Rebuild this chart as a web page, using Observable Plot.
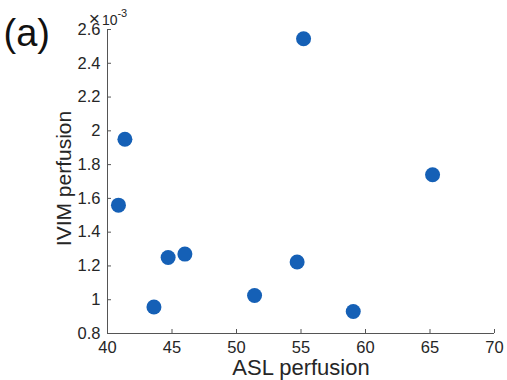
<!DOCTYPE html>
<html>
<head>
<meta charset="utf-8">
<script src="https://cdn.jsdelivr.net/npm/d3@7"></script>
<script src="https://cdn.jsdelivr.net/npm/@observablehq/plot@0.6"></script>
<style>
  html, body { margin: 0; padding: 0; background: #fff; }
  #chart { position: relative; width: 507px; height: 380px; }
  svg { font-family: "Liberation Sans", Arial, Helvetica, sans-serif; }
</style>
</head>
<body>
<div id="chart"></div>
<script>
const aslPerfusion  = [41.35, 40.85, 44.7, 46.0, 43.6, 51.4, 55.2, 65.2, 54.7, 59.05];
const ivimPerfusion = [0.00195, 0.00156, 0.00125, 0.00127, 0.000957, 0.001025, 0.002545, 0.00174, 0.001223, 0.00093];
const xTicks = [40, 45, 50, 55, 60, 65, 70];
const yTicks = [0.0008, 0.0010, 0.0012, 0.0014, 0.0016, 0.0018, 0.0020, 0.0022, 0.0024, 0.0026];
const yTickLabels = ["0.8", "1", "1.2", "1.4", "1.6", "1.8", "2", "2.2", "2.4", "2.6"];
const xLabel = "ASL perfusion";
const yLabel = "IVIM perfusion";
const panelLabel = "(a)";

const data = aslPerfusion.map((x, i) => ({x, y: ivimPerfusion[i]}));
const xDomain = [40, 70], yDomain = [0.0008, 0.0026];
const W = 507, H = 380, mL = 107, mR = 13, mT = 29, mB = 47;
const pxPerX = (W - mL - mR) / (xDomain[1] - xDomain[0]);
const pxPerY = (H - mT - mB) / (yDomain[1] - yDomain[0]);
const tickLen = 4;
const axisColor = "#555";
const textColor = "#262626";
const font = "'Liberation Sans', Arial, Helvetica, sans-serif";

const plot = Plot.plot({
  width: W, height: H,
  marginLeft: mL, marginRight: mR, marginTop: mT, marginBottom: mB,
  x: {domain: xDomain, axis: null},
  y: {domain: yDomain, axis: null},
  style: {fontFamily: font, color: textColor, background: "#fff"},
  marks: [
    Plot.ruleY([yDomain[0]], {stroke: axisColor, strokeWidth: 1}),
    Plot.ruleX([xDomain[0]], {stroke: axisColor, strokeWidth: 1}),
    Plot.ruleX(xTicks, {x: d => d, y1: yDomain[0], y2: yDomain[0] + tickLen / pxPerY, stroke: axisColor}),
    Plot.ruleY(yTicks, {y: d => d, x1: xDomain[0], x2: xDomain[0] + tickLen / pxPerX, stroke: axisColor}),
    Plot.text(xTicks, {x: d => d, y: yDomain[0], text: d => String(d), dy: 14, fontSize: 16.5, fill: textColor, textAnchor: "middle", lineAnchor: "middle"}),
    Plot.text(yTicks, {x: xDomain[0], y: d => d, text: (d, i) => yTickLabels[i], dx: -7, textAnchor: "end", lineAnchor: "middle", fontSize: 16.5, fill: textColor}),
    Plot.dot(data, {x: "x", y: "y", r: 7.5, fill: "#1560b6", stroke: "none"}),
    Plot.text([xLabel], {frameAnchor: "bottom", dy: 34, text: d => d, fontSize: 22, fill: textColor, textAnchor: "middle", lineAnchor: "middle"}),
    Plot.text([yLabel], {frameAnchor: "left", dx: -43, dy: -3, rotate: -90, text: d => d, fontSize: 21, fill: textColor, textAnchor: "middle", lineAnchor: "middle"}),
    Plot.text([panelLabel], {frameAnchor: "top-left", dx: -104, dy: 4, text: d => d, fontSize: 38, fill: "#111", textAnchor: "start", lineAnchor: "middle"})
  ]
});
document.getElementById("chart").appendChild(plot);

// scale exponent label (×10^-3) above the y axis
const svg = d3.select(plot);
const t = svg.append("text")
  .attr("x", mL + 1).attr("y", 25)
  .attr("fill", textColor)
  .attr("font-family", font);
t.append("tspan").attr("font-size", 19).text("\u00d7");
t.append("tspan").attr("font-size", 14).attr("dx", 2).text("10");
t.append("tspan").attr("font-size", 11).attr("dy", -8).text("-3");
</script>
</body>
</html>
